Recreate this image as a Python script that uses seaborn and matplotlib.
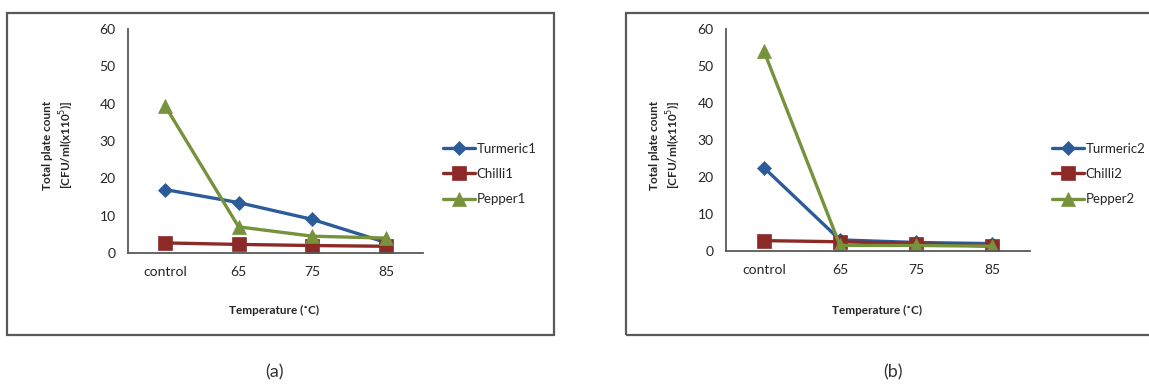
import pandas as pd
import seaborn as sns
import matplotlib.pyplot as plt
from matplotlib.patches import Rectangle

# ----------------------------
# DATA
# ----------------------------

temps = ["control", "65", "75", "85"]

turmeric1 = [17.0, 13.5, 9.0, 2.8]
chilli1 = [2.7, 2.3, 2.0, 1.8]
pepper1 = [39.5, 7.0, 4.5, 4.0]

turmeric2 = [22.5, 3.0, 2.3, 2.0]
chilli2 = [2.8, 2.5, 2.0, 1.3]
pepper2 = [54.0, 1.5, 1.5, 1.3]

y_ticks = [0, 10, 20, 30, 40, 50, 60]

colors = ["#2C5B9A", "#8C2A28", "#76923C"]
markers = ["D", "s", "^"]
msizes = [7, 10, 10]

sns.set_style("white")
plt.rcParams["font.family"] = ["Lato", "DejaVu Sans"]

fig = plt.figure(figsize=(11.49, 3.85), dpi=100)

panels = [
    (["Turmeric1", "Chilli1", "Pepper1"], [turmeric1, chilli1, pepper1],
     [128, 29, 423, 253], 443, 274, 59, "(a)", 275, [7, 13, 554, 335]),
    (["Turmeric2", "Chilli2", "Pepper2"], [turmeric2, chilli2, pepper2],
     [726, 29, 1030, 251], 1052, 877, 666, "(b)", 893, [626, 13, 1160, 335]),
]

W, H = 1149, 385

for names, series, box, leg_x, xlab_x, ylab_x, cap, cap_x, frame in panels:
    # outer frame of each sub-figure
    fx0, fy0, fx1, fy1 = frame
    fig.patches.append(Rectangle((fx0 / W, 1 - fy1 / H), (fx1 - fx0) / W, (fy1 - fy0) / H,
                                 transform=fig.transFigure, fill=False,
                                 edgecolor="#595959", linewidth=1.6))

    x0, y0, x1, y1 = box
    ax = fig.add_axes([x0 / W, 1 - y1 / H, (x1 - x0) / W, (y1 - y0) / H])

    for name, vals, c, m, ms in zip(names, series, colors, markers, msizes):
        df = pd.DataFrame({"temp": temps, "count": vals})
        sns.lineplot(data=df, x="temp", y="count", color=c, marker=m, markersize=ms,
                     markeredgewidth=0.5, markeredgecolor=c, linewidth=2.4,
                     label=name, ax=ax, sort=False)

    ax.set_xlim(-0.5, 3.5)
    ax.set_ylim(0, 60)
    ax.set_yticks(y_ticks)
    ax.set_xticks(range(len(temps)))
    ax.set_xticklabels(temps)
    ax.set_xticks([-0.5, 0.5, 1.5, 2.5, 3.5], minor=True)
    ax.tick_params(axis="x", which="major", length=0, pad=9, labelsize=10, colors="#262626")
    ax.tick_params(axis="x", which="minor", length=5, width=1, color="#595959", direction="out")
    ax.tick_params(axis="y", length=5, width=1, color="#595959", direction="out",
                   labelsize=10, labelcolor="#262626", pad=4)

    sns.despine(ax=ax)
    for s in ["left", "bottom"]:
        ax.spines[s].set_color("#595959")
        ax.spines[s].set_linewidth(1.3)

    ax.set_xlabel("")
    ax.set_ylabel("")
    fig.text(xlab_x / W, 1 - 310 / H, "Temperature (˚C)", ha="center", va="center",
             fontsize=8.5, fontweight="bold", color="#262626")
    fig.text(ylab_x / W, 1 - 145 / H, "Total plate count\n[CFU/ml(x110$^5$)]",
             ha="center", va="center", rotation=90, fontsize=8.5, fontweight="bold",
             color="#262626", linespacing=1.3)

    ax.legend(loc="center left", bbox_to_anchor=(leg_x / W, 1 - 174 / H),
              bbox_transform=fig.transFigure, frameon=False, handlelength=2.4,
              handletextpad=0.15, labelspacing=1.0, borderpad=0, borderaxespad=0,
              prop={"size": 9.5})

    fig.text(cap_x / W, 1 - 372 / H, cap, ha="center", va="center", fontsize=13,
             color="#333333")

fig.savefig("out.png", dpi=100)
